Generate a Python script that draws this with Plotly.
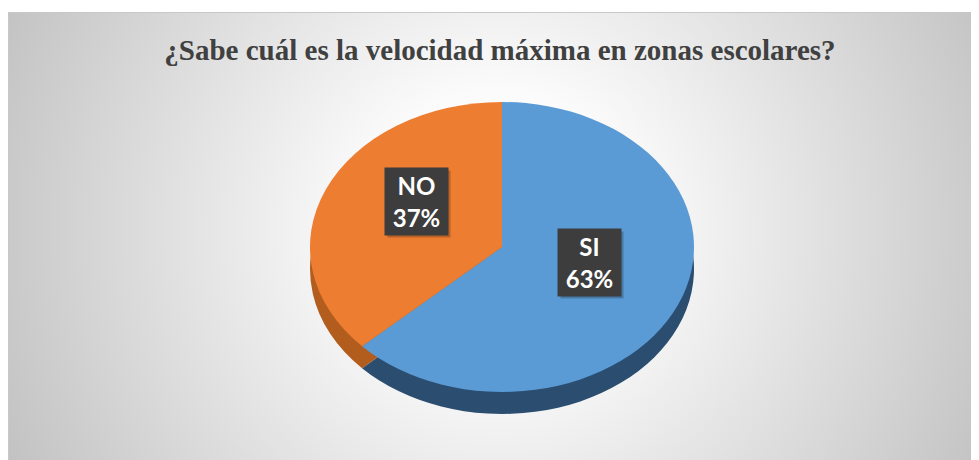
import base64
import plotly.graph_objects as go

# ---- data ----
labels = ["SI", "NO"]
values = [63, 37]
title_text = "¿Sabe cuál es la velocidad máxima en zonas escolares?"

W, H = 979, 460
OFF = 8  # page body margin compensation
top_colors = ["#5b9bd5", "#ed7d31"]
side_colors = ["#2a4d70", "#b25d1d"]

# background gradient panel (svg data uri)
svg = (
    "<svg xmlns='http://www.w3.org/2000/svg' width='979' height='456' viewBox='0 0 979 456' preserveAspectRatio='none'>"
    "<defs><radialGradient id='g' gradientUnits='userSpaceOnUse' cx='490' cy='215' r='545'>"
    "<stop offset='0' stop-color='#ffffff'/><stop offset='0.25' stop-color='#fbfbfb'/>"
    "<stop offset='1' stop-color='#c2c2c2'/></radialGradient></defs>"
    "<rect width='979' height='456' fill='url(#g)'/></svg>"
)
src = "data:image/svg+xml;base64," + base64.b64encode(svg.encode()).decode()

fig = go.Figure()

# pie geometry (figure pixels)
cx, cy, r, depth = 502 - OFF, 247 - OFF, 145, 22
sx = 192 / 145  # horizontal stretch for the elliptical 3D look

def dom(dy=0):
    return dict(
        x=[(cx - r) / W, (cx + r) / W],
        y=[1 - (cy + r + dy) / H, 1 - (cy - r + dy) / H],
    )

# side (depth) layer
fig.add_trace(go.Pie(
    labels=labels, values=values, sort=False, direction="clockwise", rotation=0,
    marker=dict(colors=side_colors, line=dict(width=0)),
    textinfo="none", hoverinfo="skip", domain=dom(depth), showlegend=False,
))
# top face
fig.add_trace(go.Pie(
    labels=labels, values=values, sort=False, direction="clockwise", rotation=0,
    marker=dict(colors=top_colors, line=dict(width=0)),
    textinfo="none", hoverinfo="label+percent", domain=dom(0), showlegend=False,
))

# data labels (dark boxes)
label_pos = {"SI": (589 - OFF, 262 - OFF), "NO": (416 - OFF, 201 - OFF)}
total = sum(values)
annotations = []
shapes = []
bw, bh = 63, 67
for lab, val in zip(labels, values):
    px, py = label_pos[lab]
    txt = f"<b>{lab}<br>{round(val * 100 / total)}%</b>"
    shapes.append(dict(
        type="rect", xref="paper", yref="paper", layer="above",
        x0=(px - bw / 2 + 3) / W, x1=(px + bw / 2 + 3) / W,
        y0=1 - (py + bh / 2 + 3) / H, y1=1 - (py - bh / 2 + 3) / H,
        fillcolor="rgba(0,0,0,0.22)", line=dict(width=0),
    ))
    annotations.append(dict(
        x=px / W, y=1 - py / H, xref="paper", yref="paper",
        text=txt, showarrow=False, width=bw - 2, height=bh - 2,
        bgcolor="#3d3d3d", font=dict(color="white", size=24, family="Lato"),
        align="center", valign="middle",
    ))

shapes.append(dict(
    type="rect", xref="paper", yref="paper", x0=0.5 / W, x1=1.2, y0=-0.2, y1=1 - 4.5 / H,
    line=dict(color="#c8c8c8", width=1), fillcolor="rgba(0,0,0,0)", layer="below",
))

fig.update_layout(
    width=W, height=H,
    margin=dict(l=0, r=0, t=0, b=0),
    paper_bgcolor="white",
    title=dict(
        text=f"<b>{title_text}</b>", x=(500 - OFF) / W, y=1 - (50 - OFF) / H,
        xanchor="center", yanchor="middle",
        font=dict(family="Liberation Serif", size=29, color="#404040"),
    ),
    images=[dict(
        source=src, xref="paper", yref="paper", x=0, y=1 - 4 / H,
        sizex=1, sizey=1 - 4 / H, xanchor="left", yanchor="top",
        sizing="stretch", layer="below",
    )],
    shapes=shapes,
    annotations=annotations,
)

post = """
var gd = document.getElementById('{plot_id}');
function squash(){
  gd.querySelectorAll('.pielayer .trace').forEach(function(t){
    t.setAttribute('transform', 'translate(%f,0) scale(%f,1) translate(%f,0)');
  });
}
squash();
gd.on('plotly_afterplot', squash);
""" % (cx, sx, -cx)

fig.write_html("out.html", post_script=post)
